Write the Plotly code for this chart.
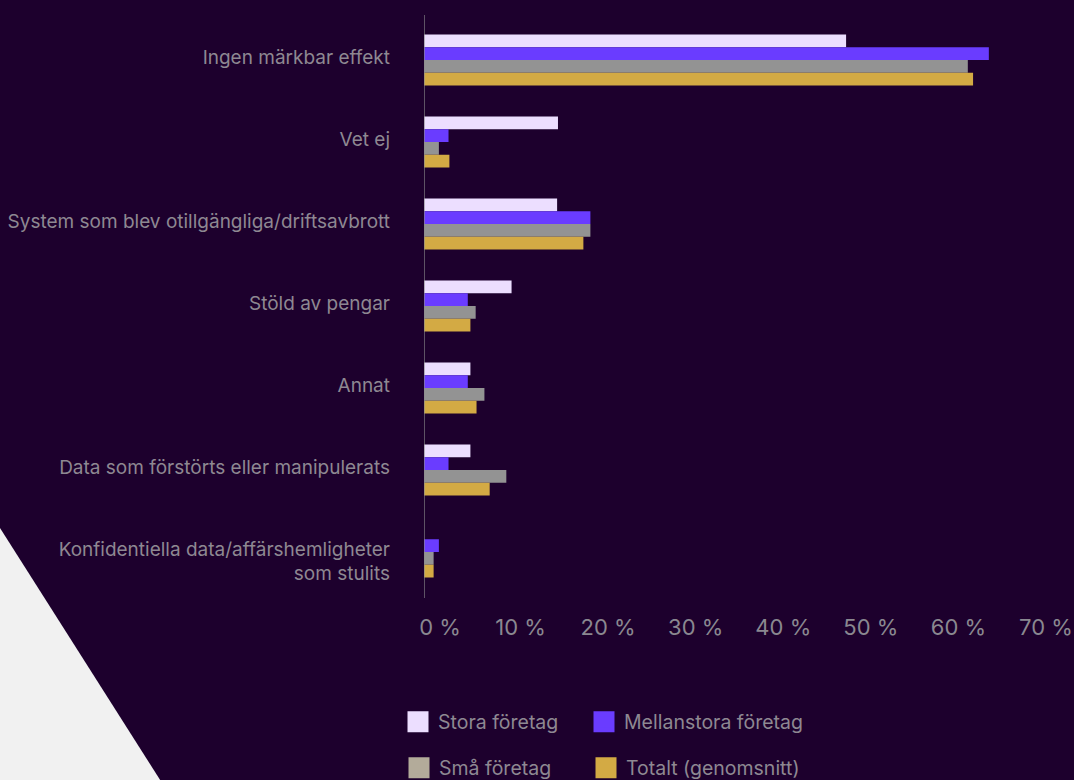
import plotly.graph_objects as go

# Survey answers: effects of the incident, share of respondents (%)
categories = [
    "Ingen märkbar effekt",
    "Vet ej",
    "System som blev otillgängliga/driftsavbrott",
    "Stöld av pengar",
    "Annat",
    "Data som förstörts eller manipulerats",
    "\u00a0<br>Konfidentiella data/affärshemligheter<br>som stulits",
]

stora = [48.2, 15.3, 15.2, 10.0, 5.3, 5.3, 0.0]
mellanstora = [64.5, 2.8, 19.0, 5.0, 5.0, 2.8, 1.7]
sma = [62.1, 1.7, 19.0, 5.9, 6.9, 9.4, 1.1]
totalt = [62.7, 2.9, 18.2, 5.3, 6.0, 7.5, 1.1]

series_names = ["Stora företag", "Mellanstora företag", "Små företag", "Totalt (genomsnitt)"]
bar_colors = ["#ecdeff", "#6a3cff", "#939393", "#d3aa44"]
legend_colors = ["#ecdeff", "#6a3cff", "#b3ab9a", "#d3aa44"]

x_ticks = [0, 10, 20, 30, 40, 50, 60, 70]
x_tick_text = ["\u20070 %", "10 %", "20 %", "30 %", "40 %", "50 %", "60 %", "70 %"]

BG = "#1d002d"
W, H = 1074, 780
ML, MR, MT, MB = 424, 37, 19, 187
PW, PH = W - ML - MR, H - MT - MB


def px_x(p):
    return (p - ML) / PW


def px_y(p):
    return (H - MB - p) / PH


fig = go.Figure()

for name, vals, col in zip(series_names, [stora, mellanstora, sma, totalt], bar_colors):
    fig.add_trace(go.Bar(
        y=categories, x=vals, name=name, orientation="h",
        marker=dict(color=col, line=dict(width=0)),
        showlegend=False, hoverinfo="x+y",
    ))

# one legend box per entry, laid out as a 2 x 2 grid
legend_ids = ["legend", "legend2", "legend3", "legend4"]
legend_pos = [(418, 722), (604, 722), (419, 768), (606, 768)]  # swatch centres

for lid, name, col in zip(legend_ids, series_names, legend_colors):
    fig.add_trace(go.Scatter(
        x=[None], y=[None], mode="markers", name=name,
        marker=dict(symbol="square", size=16, color=col, line=dict(color=col, width=5)),
        legend=lid, hoverinfo="skip",
    ))

# light corner wedge bottom-left
tri = "M {x0},{y0} L {x1},{y1} L {x2},{y2} Z".format(
    x0=px_x(-10), y0=px_y(512.2),
    x1=px_x(166.5), y1=px_y(790),
    x2=px_x(-10), y2=px_y(790),
)
fig.add_shape(type="path", path=tri, xref="paper", yref="paper",
              fillcolor="#f1f1f1", line=dict(width=0), layer="below")

# value axis baseline
fig.add_shape(type="line", xref="x", yref="paper", x0=0, x1=0,
              y0=px_y(598), y1=px_y(15), line=dict(color="#8c8c8c", width=1.2))

legend_layout = {}
for lid, (cx, cy) in zip(legend_ids, legend_pos):
    legend_layout[lid] = dict(
        orientation="h", xanchor="left", yanchor="middle",
        x=px_x(cx - 20), y=px_y(cy),
        font=dict(family="Inter", size=19.5, color="#8e8892"),
        bgcolor="rgba(0,0,0,0)", borderwidth=0,
        itemclick=False, itemdoubleclick=False,
    )

fig.update_layout(
    width=W, height=H,
    margin=dict(l=ML, r=MR, t=MT, b=MB, autoexpand=False),
    paper_bgcolor=BG, plot_bgcolor=BG,
    barmode="group", bargap=0.378, bargroupgap=0,
    font=dict(family="Inter", color="#8e8892"),
    xaxis=dict(
        range=[0, 70], tickvals=x_ticks, ticktext=x_tick_text,
        showgrid=False, zeroline=False, showline=False, ticks="",
        tickfont=dict(family="Inter", size=22, color="#8a8890"),
        ticklabelshift=9, ticklabelstandoff=19, fixedrange=True,
    ),
    yaxis=dict(
        type="category", categoryorder="array", categoryarray=categories,
        range=[6.5, -0.5], showgrid=False, zeroline=False, showline=False,
        ticks="", tickfont=dict(family="Inter", size=19, color="#8e8892"),
        ticklabelstandoff=33, ticklabelshift=3, fixedrange=True,
    ),
    **legend_layout,
)

fig.write_html("out.html")
